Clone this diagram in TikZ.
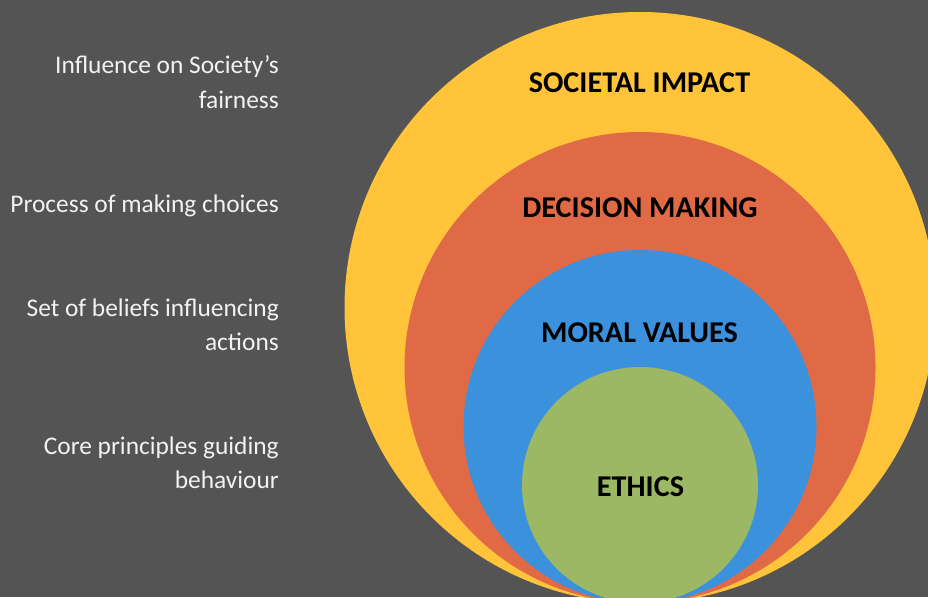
\documentclass[tikz,border=0pt]{standalone}
\usepackage{fontspec}
\setmainfont{Carlito}
\definecolor{bg}{HTML}{545454}
\definecolor{cyellow}{HTML}{FFC43A}
\definecolor{cred}{HTML}{E16A46}
\definecolor{cblue}{HTML}{3C91DD}
\definecolor{cgreen}{HTML}{9CB865}
\definecolor{ltext}{HTML}{F2F2F2}
\begin{document}
\begin{tikzpicture}[x=1pt,y=-1pt,
  ring/.style={circle,inner sep=0pt,minimum size=#1,draw=none},
  side/.style={text=ltext,font=\fontsize{25.4}{35}\selectfont,align=right,inner sep=0pt,anchor=base east},
  ttl/.style={font=\fontsize{30.2}{34}\selectfont\bfseries,text=black,inner sep=0pt,anchor=base}]
\useasboundingbox (0,0) rectangle (928,597);
\fill[bg] (0,0) rectangle (928,597);
\begin{scope}
\clip (0,0) rectangle (928,597);
\node[ring=591pt,fill=cyellow] (y) at (640,307.5) {};
\node[ring=471pt,fill=cred] (r) at (640,367.5) {};
\node[ring=353pt,fill=cblue] (b) at (640,426.5) {};
\node[ring=236pt,fill=cgreen] (g) at (640,485) {};
\end{scope}
\node[ttl] (t1) at (639.5,92) {SOCIETAL IMPACT};
\node[ttl] (t2) at (640,217) {DECISION MAKING};
\node[ttl] (t3) at (639.5,342) {MORAL VALUES};
\node[ttl] (t4) at (640.5,496) {ETHICS};
\node[side] (s1a) at (279,73) {Influence on Society’s};
\node[side] (s1b) at (279,108) {fairness};
\node[side] (s2) at (279,212) {Process of making choices};
\node[side] (s3a) at (279,316) {Set of beliefs influencing};
\node[side] (s3b) at (279,350) {actions};
\node[side] (s4a) at (279,454) {Core principles guiding};
\node[side] (s4b) at (279,488) {behaviour};
\end{tikzpicture}
\end{document}
